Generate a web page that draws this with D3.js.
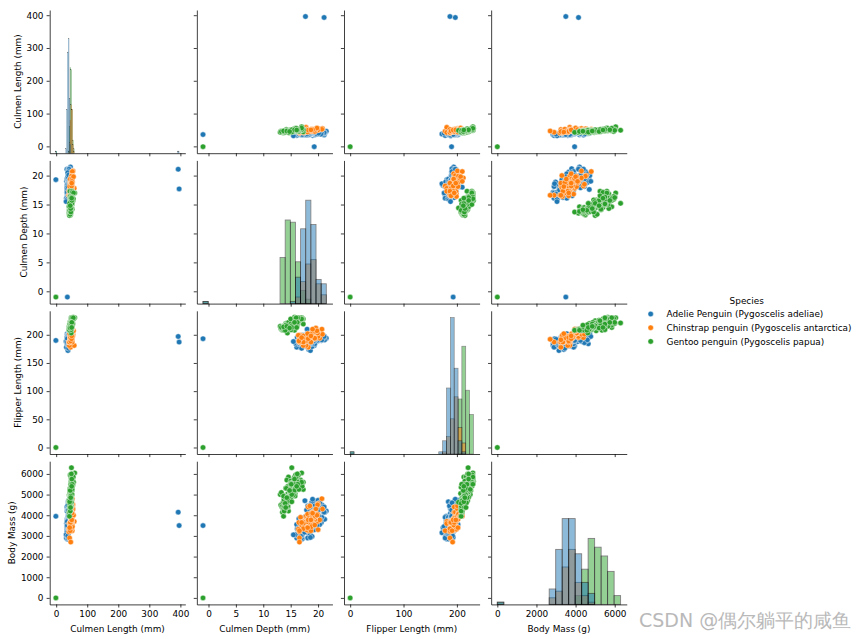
<!DOCTYPE html>
<html><head><meta charset="utf-8">
<script src="https://cdn.jsdelivr.net/npm/d3@7"></script>
<style>body{margin:0;background:#fff} text{font-family:"DejaVu Sans",sans-serif}</style>
</head><body><svg id="c" width="865" height="639"></svg>
<script>
const variables = ["Culmen Length (mm)","Culmen Depth (mm)","Flipper Length (mm)","Body Mass (g)"];
const species = ["Adelie Penguin (Pygoscelis adeliae)","Chinstrap penguin (Pygoscelis antarctica)","Gentoo penguin (Pygoscelis papua)"];
const colors = ["#1f77b4","#ff7f0e","#2ca02c"];
// [culmen length, culmen depth, flipper length, body mass]
const adelie = [[39.1,18.7,181,3750],[39.5,17.4,186,3800],[40.3,18.0,195,3250],[36.7,19.3,193,3450],[39.3,20.6,190,3650],[38.9,17.8,181,3625],[39.2,19.6,195,4675],[34.1,18.1,193,3475],[42.0,20.2,190,4250],[37.8,17.1,186,3300],[37.8,17.3,180,3700],[41.1,17.6,182,3200],[38.6,21.2,191,3800],[34.6,21.1,198,4400],[36.6,17.8,185,3700],[38.7,19.0,195,3450],[42.5,20.7,197,4500],[34.4,18.4,184,3325],[46.0,21.5,194,4200],[37.8,18.3,174,3400],[37.7,18.7,180,3600],[35.9,19.2,189,3800],[38.2,18.1,185,3950],[38.8,17.2,180,3800],[35.3,18.9,187,3800],[40.6,18.6,183,3550],[40.5,17.9,187,3200],[37.9,18.6,172,3150],[40.5,18.9,180,3950],[39.5,16.7,178,3250],[37.2,18.1,178,3900],[39.5,17.8,188,3300],[40.9,18.9,184,3900],[36.4,17.0,195,3325],[39.2,21.1,196,4150],[38.8,20.0,190,3950],[42.2,18.5,180,3550],[37.6,19.3,181,3300],[39.8,19.1,184,4650],[36.5,18.0,182,3150],[40.8,18.4,195,3900],[36.0,18.5,186,3100],[44.1,19.7,196,4400],[37.0,16.9,185,3000],[39.6,18.8,190,4600],[41.1,19.0,182,3425],[37.5,18.9,179,2975],[36.0,17.9,190,3450],[42.3,21.2,191,4150],[39.6,17.7,186,3500],[40.1,18.9,188,4300],[35.0,17.9,190,3450],[42.0,19.5,200,4050],[34.5,18.1,187,2900],[41.4,18.6,191,3700],[39.0,17.5,186,3550],[40.6,18.8,193,3800],[36.5,16.6,181,2850],[37.6,19.1,194,3750],[35.7,16.9,185,3150],[41.3,21.1,195,4400],[37.6,17.0,185,3600],[41.1,18.2,192,4050],[36.4,17.1,184,2850],[41.6,18.0,192,3950],[35.5,16.2,195,3350],[41.1,19.1,188,4100],[35.9,16.6,190,3050],[41.8,19.4,198,4450],[33.5,19.0,190,3600],[39.7,18.4,190,3900],[39.6,17.2,196,3550],[45.8,18.9,197,4150],[35.5,17.5,190,3700],[42.8,18.5,195,4250],[40.9,16.8,191,3700],[37.2,19.4,184,3900],[36.2,16.1,187,3550],[42.1,19.1,195,4000],[34.6,17.2,189,3200],[42.9,17.6,196,4700],[36.7,18.8,187,3800],[35.1,19.4,193,4200],[37.3,17.8,191,3350],[41.3,20.3,194,3550],[36.3,19.5,190,3800],[36.9,18.6,189,3500],[38.3,19.2,189,3950],[38.9,18.8,190,3600],[35.7,18.0,202,3550],[41.1,18.1,205,4300],[34.0,17.1,185,3400],[39.6,18.1,186,4450],[36.2,17.3,187,3300],[40.8,18.9,208,4300],[38.1,18.6,190,3700],[40.3,18.5,196,4350],[33.1,16.1,178,2900],[43.2,18.5,192,4100],[35.0,17.9,192,3725],[41.0,20.0,203,4725],[37.7,16.0,183,3075],[37.8,20.0,190,4250],[37.9,18.6,193,2925],[39.7,18.9,184,3550],[38.6,17.2,199,3750],[38.2,20.0,190,3900],[38.1,17.0,181,3175],[43.2,19.0,197,4775],[38.1,16.5,198,3825],[45.6,20.3,191,4600],[39.7,17.7,193,3200],[42.2,19.5,197,4275],[39.6,20.7,191,3900],[42.7,18.3,196,4075],[38.6,17.0,188,2900],[37.3,20.5,199,3775],[35.7,17.0,189,3350],[41.1,18.6,189,3325],[36.2,17.2,187,3150],[37.7,19.8,198,3500],[40.2,17.0,176,3450],[41.4,18.5,202,3875],[35.2,15.9,186,3050],[40.6,19.0,199,4000],[38.8,17.6,191,3275],[41.5,18.3,195,4300],[39.0,17.1,191,3050],[44.1,18.0,210,4000],[38.5,17.9,190,3325],[43.1,19.2,197,3500],[36.8,18.5,193,3500],[37.5,18.5,199,4475],[38.1,17.6,187,3425],[41.1,17.5,190,3900],[35.6,17.5,191,3175],[40.2,20.1,200,3975],[37.0,16.5,185,3400],[39.7,17.9,193,4250],[40.2,17.1,193,3400],[40.6,17.2,187,3475],[32.1,15.5,188,3050],[40.7,17.0,190,3725],[37.3,16.8,192,3000],[39.0,18.7,185,3650],[39.2,18.6,190,4250],[36.6,18.4,184,3475],[36.0,17.8,195,3450],[37.8,18.1,193,3750],[36.0,17.1,187,3700],[41.5,18.5,201,4000],
  [-1,19.3,190,3950],[36,-1,193,3500],[393,21.1,197,4150],[396,17.7,187,3500]];
const chinstrap = [[46.5,17.9,192,3500],[50.0,19.5,196,3900],[51.3,19.2,193,3650],[45.4,18.7,188,3525],[52.7,19.8,197,3725],[45.2,17.8,198,3950],[46.1,18.2,178,3250],[51.3,18.2,197,3750],[46.0,18.9,195,4150],[51.3,19.9,198,3700],[46.6,17.8,193,3800],[51.7,20.3,194,3775],[47.0,17.3,185,3700],[52.0,18.1,201,4050],[45.9,17.1,190,3575],[50.5,19.6,201,4050],[50.3,20.0,197,3300],[58.0,17.8,181,3700],[46.4,18.6,190,3450],[49.2,18.2,195,4400],[42.4,17.3,181,3600],[48.5,17.5,191,3400],[43.2,16.6,187,2900],[50.6,19.4,193,3800],[46.7,17.9,195,3300],[52.0,19.0,197,4150],[50.5,18.4,200,3400],[49.5,19.0,200,3800],[46.4,17.8,191,3700],[52.8,20.0,205,4550],[40.9,16.6,187,3200],[54.2,20.8,201,4300],[42.5,16.7,187,3350],[51.0,18.8,203,4100],[49.7,18.6,195,3600],[47.5,16.8,199,3900],[47.6,18.3,195,3850],[52.0,20.7,210,4800],[46.9,16.6,192,2700],[53.5,19.9,205,4500],[49.0,19.5,210,3950],[46.2,17.5,187,3650],[50.9,19.1,196,3550],[45.5,17.0,196,3500],[50.9,17.9,196,3675],[50.8,18.5,201,4450],[50.1,17.9,190,3400],[49.0,19.6,212,4300],[51.5,18.7,187,3250],[49.8,17.3,198,3675],[48.1,16.4,199,3325],[51.4,19.0,201,3950],[45.7,17.3,193,3600],[50.7,19.7,203,4050],[42.5,17.3,187,3350],[52.2,18.8,197,3450],[45.2,16.6,191,3250],[49.3,19.9,203,4050],[50.2,18.8,202,3800],[45.6,19.4,194,3525],[51.9,19.5,206,3950],[46.8,16.5,189,3650],[45.7,17.0,195,3650],[55.8,19.8,207,4000],[43.5,18.1,202,3400],[49.6,18.2,193,3775],[50.8,19.0,210,4100],[50.2,18.7,198,3775]];
const gentoo = [[46.1,13.2,211,4500],[50.0,16.3,230,5700],[48.7,14.1,210,4450],[50.0,15.2,218,5700],[47.6,14.5,215,5400],[46.5,13.5,210,4550],[45.4,14.6,211,4800],[46.7,15.3,219,5200],[43.3,13.4,209,4400],[46.8,15.4,215,5150],[40.9,13.7,214,4650],[49.0,16.1,216,5550],[45.5,13.7,214,4650],[48.4,14.6,213,5850],[45.8,14.6,210,4200],[49.3,15.7,217,5850],[42.0,13.5,210,4150],[49.2,15.2,221,6300],[46.2,14.5,209,4800],[48.7,15.1,222,5350],[50.2,14.3,218,5700],[45.1,14.5,215,5000],[46.5,14.5,213,4400],[46.3,15.8,215,5050],[42.9,13.1,215,5000],[46.1,15.1,215,5100],[47.8,15.0,215,5650],[48.2,14.3,210,4600],[50.0,15.3,220,5550],[47.3,15.3,222,5250],[42.8,14.2,209,4700],[45.1,14.5,207,5050],[59.6,17.0,230,6050],[49.1,14.8,220,5150],[48.4,16.3,220,5400],[42.6,13.7,213,4950],[44.4,17.3,219,5250],[44.0,13.6,208,4350],[48.7,15.7,208,5350],[42.7,13.7,208,3950],[49.6,16.0,225,5700],[45.3,13.7,210,4300],[49.6,15.0,216,4750],[50.5,15.9,222,5550],[43.6,13.9,217,4900],[45.5,13.9,210,4200],[50.5,15.9,225,5400],[44.9,13.3,213,5100],[45.2,15.8,215,5300],[46.6,14.2,210,4850],[48.5,14.1,220,5300],[45.1,14.4,210,4400],[50.1,15.0,225,5000],[46.5,14.4,217,4900],[45.0,15.4,220,5050],[43.8,13.9,208,4300],[45.5,15.0,220,5000],[43.2,14.5,208,4450],[50.4,15.3,224,5550],[45.3,13.8,208,4200],[46.2,14.9,221,5300],[45.7,13.9,214,4400],[54.3,15.7,231,5650],[45.8,14.2,219,4700],[49.8,16.8,230,5700],[46.2,14.4,214,4650],[49.5,16.2,229,5800],[43.5,14.2,220,4700],[50.7,15.0,223,5550],[47.7,15.0,216,4750],[46.4,15.6,221,5000],[48.2,15.6,221,5100],[46.5,14.8,217,5200],[46.4,15.0,216,4700],[48.6,16.0,230,5800],[47.5,14.2,209,4600],[51.1,16.3,220,6000],[45.2,13.8,215,4750],[45.2,16.4,223,5950],[49.1,14.5,212,4625],[52.5,15.6,221,5450],[47.4,14.6,212,4725],[50.0,15.9,224,5350],[44.9,13.8,212,4750],[50.8,17.3,228,5600],[43.4,14.4,218,4600],[51.3,14.2,218,5300],[47.5,14.0,212,4875],[52.1,17.0,230,5550],[47.5,15.0,218,4950],[52.2,17.1,228,5400],[45.5,14.5,212,4750],[49.5,16.1,224,5650],[44.5,14.7,214,4850],[50.8,15.7,226,5200],[49.4,15.8,216,4925],[46.9,14.6,222,4875],[48.4,14.4,203,4625],[51.1,16.5,225,5250],[48.5,15.0,219,4850],[55.9,17.0,228,5600],[47.2,15.5,215,4975],[49.1,15.0,228,5500],[46.8,16.1,215,5500],[41.7,14.7,210,4700],[53.4,15.8,219,5500],[43.3,14.0,208,4575],[48.1,15.1,209,5500],[50.5,15.2,216,5000],[49.8,15.9,229,5950],[43.5,15.2,213,4650],[51.5,16.3,230,5500],[46.2,14.1,217,4375],[55.1,16.0,230,5850],[48.8,16.2,222,6000],[47.2,13.7,214,4925],[46.8,14.3,215,4850],[50.4,15.7,222,5750],[45.2,14.8,212,5200],[49.9,16.1,213,5400],
  [-1,-1,0,0]];
const xTicks = [[0,100,200,300,400],[0,5,10,15,20],[0,100,200],[0,2000,4000,6000]];
const yTicks = [[0,100,200,300,400],[0,5,10,15,20],[0,50,100,150,200],[0,1000,2000,3000,4000,5000,6000]];
// diagonal histograms: first bin edge, bin width, bin indices, counts per species
const histStart = [-1, -1, 0, 0];
const histWidth = [2.836, 0.9375, 7.21875, 331.579];
const lengthBinIdx = [0,11,12,13,14,15,16,17,18,19,20,138,139];
const lengthAdelie = [1,2,20,46,52,25,4,0,0,0,0,1,1];
const lengthChin   = [0,0,0,0,1,5,15,22,20,4,1,0,0];
const lengthGentoo = [1,0,0,0,1,12,39,38,20,6,2,0,0];
const depthBinIdx = [0,15,16,17,18,19,20,21,22,23];
const depthAdelie = [1,0,0,1,12,34,47,36,11,9];
const depthChin   = [0,0,0,0,3,10,18,20,9,4];
const depthGentoo = [1,21,38,37,19,6,2,0,0,0];
const flipBinIdx = [0,23,24,25,26,27,28,29,30,31];
const flipAdelie = [1,1,6,30,62,39,6,1,0,0];
const flipChin   = [0,0,1,8,16,26,12,5,0,0];
const flipGentoo = [1,0,0,0,0,0,25,49,29,18];
const massBinIdx = [0,8,9,10,11,12,13,14,15,16,17,18];
const massAdelie = [1,7,25,39,39,23,10,5,0,0,0,0];
const massChin   = [0,3,6,17,25,10,4,1,0,0,0,0];
const massGentoo = [1,0,0,0,0,4,16,30,26,22,15,4];

const hist = [
  {idx: lengthBinIdx, counts: [lengthAdelie, lengthChin, lengthGentoo]},
  {idx: depthBinIdx, counts: [depthAdelie, depthChin, depthGentoo]},
  {idx: flipBinIdx, counts: [flipAdelie, flipChin, flipGentoo]},
  {idx: massBinIdx, counts: [massAdelie, massChin, massGentoo]}
];

const FS = 8.9;
const svg = d3.select("#c");
const left0 = 49.7, colStep = 147.15, pw = 135.6;
const top0 = 10, rowStep = 150.4, ph = 143.2;
const groups = [adelie, chinstrap, gentoo];
const all = adelie.concat(chinstrap, gentoo);

const domains = variables.map((v, k) => {
  const ext = d3.extent(all, r => r[k]);
  const pad = (ext[1] - ext[0]) * 0.05;
  return [ext[0] - pad, ext[1] + pad];
});
const xs = domains.map((d, j) => d3.scaleLinear().domain(d).range([left0 + j*colStep, left0 + j*colStep + pw]));
const ys = domains.map((d, i) => d3.scaleLinear().domain(d).range([top0 + i*rowStep + ph, top0 + i*rowStep]));
const maxCount = d3.max(hist, h => d3.max(h.counts, c => d3.max(c)));
const hy = d3.range(4).map(i => d3.scaleLinear().domain([0, maxCount*1.05]).range([top0 + i*rowStep + ph, top0 + i*rowStep]));

function styleAxis(g) {
  g.selectAll("path.domain").attr("stroke", "#000").attr("stroke-width", 0.75);
  g.selectAll(".tick line").attr("stroke", "#000").attr("stroke-width", 0.75);
  g.selectAll(".tick text").attr("font-size", FS).attr("fill", "#000").attr("font-family", "DejaVu Sans");
}

for (let i = 0; i < 4; i++) {
  for (let j = 0; j < 4; j++) {
    const x = xs[j], y = ys[i];
    const cell = svg.append("g");
    if (i === j) {
      const h = hist[j];
      for (let s = 2; s >= 0; s--) {
        const bw = x(histWidth[j]) - x(0);
        cell.append("g").selectAll("rect").data(h.idx.map((b, n) => ({b, c: h.counts[s][n]})).filter(d => d.c > 0))
          .join("rect")
          .attr("x", d => x(histStart[j] + d.b*histWidth[j]))
          .attr("width", bw)
          .attr("y", d => hy[i](d.c))
          .attr("height", d => hy[i](0) - hy[i](d.c))
          .attr("fill", colors[s]).attr("stroke", "#000")
          .attr("stroke-width", Math.min(0.16*bw, 0.9))
          .attr("opacity", 0.5);
      }
    } else {
      groups.forEach((g, s) => {
        cell.append("g").selectAll("circle").data(g).join("circle")
          .attr("cx", d => x(d[j])).attr("cy", d => y(d[i])).attr("r", 2.75)
          .attr("fill", colors[s]).attr("stroke", "#fff").attr("stroke-width", 0.45);
      });
    }
    const ax = cell.append("g").attr("transform", `translate(0,${top0 + i*rowStep + ph})`)
      .call(d3.axisBottom(x).tickValues(xTicks[j]).tickSize(3.1).tickPadding(3.1).tickSizeOuter(0)
        .tickFormat(i === 3 ? d3.format("d") : () => ""));
    styleAxis(ax);
    const ay = cell.append("g").attr("transform", `translate(${left0 + j*colStep},0)`)
      .call(d3.axisLeft(y).tickValues(yTicks[i]).tickSize(3.1).tickPadding(3.1).tickSizeOuter(0)
        .tickFormat(j === 0 ? d3.format("d") : () => ""));
    styleAxis(ay);
    if (j === 0) {
      const bb = ay.node().getBBox();
      const lx = left0 + bb.x - 3.6 - 2.1;
      svg.append("text").attr("transform", `translate(${lx},${top0 + i*rowStep + ph/2}) rotate(-90)`)
        .attr("text-anchor", "middle").attr("font-size", FS).text(variables[i]);
    }
    if (i === 3) {
      svg.append("text").attr("x", left0 + j*colStep + pw/2).attr("y", 632)
        .attr("text-anchor", "middle").attr("font-size", FS).text(variables[j]);
    }
  }
}

// legend
const lg = svg.append("g");
lg.append("text").attr("x", 746.7).attr("y", 303.8).attr("text-anchor", "middle").attr("font-size", FS).text("Species");
species.forEach((s, k) => {
  const yy = 314 + k*13.7;
  lg.append("circle").attr("cx", 650.7).attr("cy", yy).attr("r", 2.75).attr("fill", colors[k]).attr("stroke", "#fff").attr("stroke-width", 0.45);
  lg.append("text").attr("x", 666.5).attr("y", yy + 3.3).attr("font-size", FS).text(s);
});
// watermark
svg.append("text").attr("x", 639).attr("y", 627).attr("font-size", 19).attr("fill", "#b9b9b9")
  .attr("font-family", "'Noto Sans CJK SC', sans-serif").text("CSDN @偶尔躺平的咸鱼");
</script></body></html>
